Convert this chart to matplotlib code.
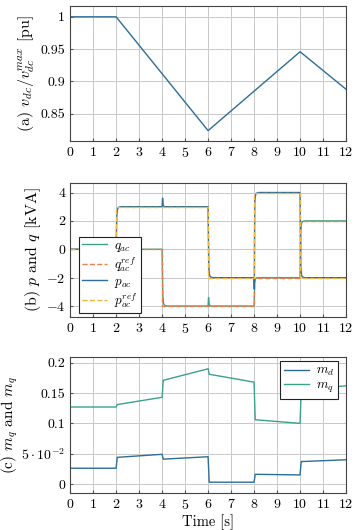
import numpy as np
import matplotlib
matplotlib.use('Agg')
from matplotlib import pyplot as plt

plt.rcParams['font.family'] = 'serif'
plt.rcParams['font.serif'] = ['cmr10', 'DejaVu Serif']
plt.rcParams['mathtext.fontset'] = 'cm'
plt.rcParams['axes.formatter.use_mathtext'] = True
plt.rcParams['axes.unicode_minus'] = False

# (a) dc voltage
t_vdc = [0, 2, 6, 10, 12]
vdc = [1.0, 1.0, 0.824, 0.946, 0.888]

# (b) active / reactive power
t_p = [0, 2, 2.03, 2.06, 2.1, 2.2, 4, 4.02, 4.05, 4.1, 6, 6.03, 6.06, 6.1, 6.2,
       8, 8.01, 8.03, 8.06, 8.1, 8.2, 10, 10.03, 10.06, 10.1, 10.2, 12]
p_ac = [0, 0, 2.4, 2.8, 2.95, 3, 3, 3.6, 3.1, 3, 3, -1.2, -1.8, -1.95, -2,
        -2, -2.8, 3.3, 3.8, 3.95, 4, 4, -1.2, -1.8, -1.95, -2, -2]
t_q = [0, 4, 4.03, 4.06, 4.1, 4.2, 6, 6.02, 6.05, 6.1, 8, 8.03, 8.06, 8.1, 8.2,
       10, 10.03, 10.06, 10.1, 10.2, 12]
q_ac = [0, 0, -3.2, -3.8, -3.95, -4, -4, -3.4, -3.9, -4, -4, -2.4, -2.1, -2.02, -2,
        -2, 1.2, 1.8, 1.95, 2, 2]
t_ref = [0, 2, 4, 6, 8, 10, 12]
q_ref = [0, 0, -4, -4, -2, 2, 2]
p_ref = [0, 3, 3, -2, 4, -2, -2]

# (c) modulation indices
t_m = [0, 2, 2.05, 4, 4.05, 6, 6.05, 8, 8.05, 10, 10.05, 12]
m_d = [0.026, 0.026, 0.044, 0.049, 0.041, 0.045, 0.003, 0.003, 0.016, 0.015, 0.037, 0.040]
m_q = [0.127, 0.127, 0.131, 0.143, 0.171, 0.190, 0.181, 0.168, 0.106, 0.100, 0.155, 0.162]

blue = '#2d6d96'
teal = '#3aa18c'
c_qref = '#e8804a'
c_pref = '#f2b43c'

fig = plt.figure(figsize=(3.56, 5.30), dpi=100)
ax1 = fig.add_axes([0.197, 0.734, 0.775, 0.255])
ax2 = fig.add_axes([0.197, 0.4025, 0.775, 0.253])
ax3 = fig.add_axes([0.197, 0.0704, 0.775, 0.2555])

fs = 10
lfs = 11.5
for ax in (ax1, ax2, ax3):
    ax.set_xlim(0, 12)
    ax.set_xticks(range(13))
    ax.grid(True, color='#c8c8c8', linewidth=0.7)
    ax.set_axisbelow(True)
    ax.tick_params(direction='in', length=2, labelsize=fs, color='#555555')
    for s in ax.spines.values():
        s.set_color('#444444')
        s.set_linewidth(0.8)

ax1.plot(t_vdc, vdc, color=blue, linewidth=1)
ax1.set_ylim(0.808, 1.017)
ax1.set_yticks([0.85, 0.9, 0.95, 1])
ax1.set_yticklabels(['0.85', '0.9', '0.95', '1'])
ax1.set_ylabel(r'(a) $v_{dc}/v_{dc}^{max}$ [pu]', fontsize=lfs)

ax2.plot(t_q, q_ac, color=teal, linewidth=1, label=r'$q_{ac}$')
ax2.plot(t_ref, q_ref, color=c_qref, linewidth=1, linestyle='--', drawstyle='steps-post',
         label=r'$q_{ac}^{ref}$')
ax2.plot(t_p, p_ac, color=blue, linewidth=1, label=r'$p_{ac}$')
ax2.plot(t_ref, p_ref, color=c_pref, linewidth=1, linestyle='--', drawstyle='steps-post',
         label=r'$p_{ac}^{ref}$')
ax2.set_ylim(-4.75, 4.7)
ax2.set_yticks([-4, -2, 0, 2, 4])
ax2.set_yticklabels(['$-4$', '$-2$', '0', '2', '4'])
ax2.set_ylabel(r'(b) $p$ and $q$ [kVA]', fontsize=lfs)
leg = ax2.legend(loc='lower left', bbox_to_anchor=(9 / 276, 3.7 / 134), borderaxespad=0,
                 fontsize=9.5, fancybox=False, framealpha=1, edgecolor='#222222',
                 handlelength=1.9, handletextpad=0.5, labelspacing=0.1, borderpad=0.25)
leg.get_frame().set_linewidth(0.8)

ax3.plot(t_m, m_d, color=blue, linewidth=1, label=r'$m_d$')
ax3.plot(t_m, m_q, color=teal, linewidth=1, label=r'$m_q$')
ax3.set_ylim(-0.0143, 0.209)
ax3.set_yticks([0, 0.05, 0.1, 0.15, 0.2])
ax3.set_yticklabels(['0', r'$5\cdot10^{-2}$', '0.1', '0.15', '0.2'])
ax3.set_ylabel(r'(c) $m_q$ and $m_q$', fontsize=11)
ax3.set_xlabel('Time [s]', fontsize=fs + 0.5, labelpad=2)
leg3 = ax3.legend(loc='upper right', bbox_to_anchor=(1 - 8 / 276, 1 - 3.7 / 135.4),
                  borderaxespad=0, fontsize=9.5, fancybox=False, framealpha=1,
                  edgecolor='#222222', handlelength=1.9, handletextpad=0.5,
                  labelspacing=0.1, borderpad=0.3)
leg3.get_frame().set_linewidth(0.8)

ax1.yaxis.set_label_coords(-0.12, 0.5)
ax2.yaxis.set_label_coords(-0.10, 0.5)
ax3.yaxis.set_label_coords(-0.18, 0.5)

plt.savefig('out.png', dpi=100)
